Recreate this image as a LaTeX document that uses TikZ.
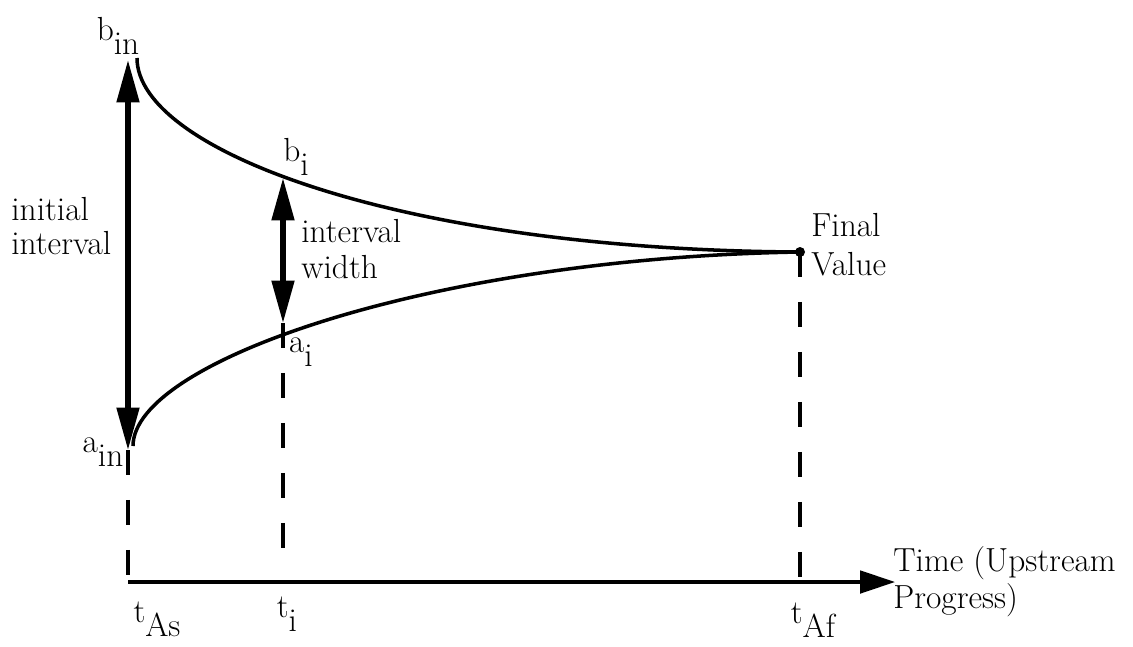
\documentclass[tikz,border=0pt]{standalone}
\usepackage{tikz}
\usetikzlibrary{arrows.meta}
\newcommand{\lowsub}[1]{\raisebox{-0.42em}{#1}}

\begin{document}
\begin{tikzpicture}[x=0.02cm, y=-0.02cm,
    lbl/.style={inner sep=0pt, font=\fontsize{19}{21}\selectfont, align=left},
    curve/.style={line width=2pt},
    dbl/.style={{Triangle[length=0.85cm,width=0.44cm]}-{Triangle[length=0.85cm,width=0.44cm]}, line width=2.9pt},
    guide/.style={line width=2pt, dash pattern=on 0.5cm off 0.5cm},
    axis/.style={-{Triangle[length=0.7cm,width=0.45cm]}, line width=2pt}
  ]
  \useasboundingbox (0,0) rectangle (1133,646);
  % key points
  \coordinate (bin) at (137,58);
  \coordinate (ain) at (133,446);
  \coordinate (bi) at (283,178);
  \coordinate (ai) at (283,323);
  \coordinate (top) at (128,60);
  \coordinate (bot) at (128,450);
  \coordinate (orig) at (128,582);
  \coordinate (tiend) at (283,555);
  \coordinate (tf) at (800,582);
  \coordinate (xend) at (895,582);
  \node[circle, fill, inner sep=0pt, minimum size=0.2cm] (fv) at (800,252) {};

  % bounds
  \draw[curve] (bin) .. controls (137,150) and (400,250) .. (fv.center);
  \draw[curve] (ain) .. controls (133,362) and (430,258) .. (fv.center);

  \draw[dbl] (bot) -- (top);
  \draw[dbl] (ai) -- (bi);

  % time axis
  \draw[guide] (bot) -- (orig);
  \draw[guide] (ai) -- (tiend);
  \draw[guide] (fv.center) -- (tf);
  \draw[axis] (orig) -- (xend);

  % labels
  \node[lbl] (binl) at (118,36) {b\lowsub{in}};
  \node[lbl] (ainl) at (103,452) {a\lowsub{in}};
  \node[lbl, anchor=west] (init) at (11,226) {initial\\[-2pt]interval};
  \node[lbl, anchor=west] (width) at (301,249) {interval\\width};
  \node[lbl] (bil) at (296,157) {b\lowsub{i}};
  \node[lbl] (ail) at (301,352) {a\lowsub{i}};
  \node[lbl, anchor=west] (final) at (811,245) {Final\\[1pt]Value};
  \node[lbl, anchor=west] (time) at (893,582) {Time (Upstream\\Progress)};
  \node[lbl] (tas) at (157,619) {t\lowsub{As}};
  \node[lbl] (til) at (287,614) {t\lowsub{i}};
  \node[lbl] (taf) at (813,620) {t\lowsub{Af}};
\end{tikzpicture}
\end{document}
